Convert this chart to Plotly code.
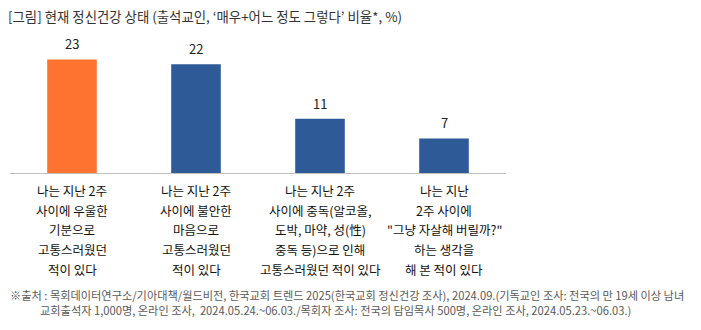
import plotly.graph_objects as go

# Survey results: share answering "very / somewhat so" (%)
categories = [
    "나는 지난 2주<br>사이에 우울한<br>기분으로<br>고통스러웠던<br>적이 있다",
    "나는 지난 2주<br>사이에 불안한<br>마음으로<br>고통스러웠던<br>적이 있다",
    "나는 지난 2주<br>사이에 중독(알코올,<br>도박, 마약, 성(性)<br>중독 등)으로 인해<br>고통스러웠던 적이 있다",
    "나는 지난<br>2주 사이에<br>\"그냥 자살해 버릴까?\"<br>하는 생각을<br>해 본 적이 있다",
]
values = [23, 22, 11, 7]
bar_colors = ["#FF7330", "#2E5B98", "#2E5B98", "#2E5B98"]

title_text = "[그림] 현재 정신건강 상태 (출석교인, ‘매우+어느 정도 그렇다’ 비율*, %)"
source_lines = [
    "※출처 : 목회데이터연구소/기아대책/월드비전, 한국교회 트렌드 2025(한국교회 정신건강 조사), 2024.09.(기독교인 조사: 전국의 만 19세 이상 남녀",
    "교회출석자 1,000명, 온라인 조사,  2024.05.24.~06.03./목회자 조사: 전국의 담임목사 500명, 온라인 조사, 2024.05.23.~06.03.)",
]

FONT = "Noto Sans CJK KR"
W, H = 701, 330
L, R, T, B = 10, 195, 40, 157
plot_w = W - L - R
plot_h = H - T - B
px_per_unit = 4.94
ymax = plot_h / px_per_unit

xs = list(range(len(categories)))

fig = go.Figure(
    go.Bar(
        x=xs,
        y=values,
        width=0.4,
        marker=dict(color=bar_colors, line=dict(width=0)),
        hoverinfo="skip",
    )
)

annotations = []
# value labels above the bars
for x, v in zip(xs, values):
    annotations.append(dict(
        x=x, y=v, xref="x", yref="y", text=str(v), showarrow=False,
        yanchor="bottom", yshift=4,
        font=dict(family=FONT, size=13, color="#222222"),
    ))

# category labels, one annotation per line for wider line spacing
line_gap = 19.6
first_line = 17.7
for x, label in zip(xs, categories):
    for i, line in enumerate(label.split("<br>")):
        annotations.append(dict(
            x=x, y=0, xref="x", yref="paper", text=line, showarrow=False,
            xanchor="center", yanchor="middle",
            yshift=-(first_line + line_gap * i),
            font=dict(family=FONT, size=12.5, color="#111111"),
        ))

# source note
for px, py, txt in [(8, 295, source_lines[0]), (38, 309.5, source_lines[1])]:
    annotations.append(dict(
        x=(px - L) / plot_w, y=(H - B - py) / plot_h, xref="paper", yref="paper",
        text=txt, showarrow=False, xanchor="left", yanchor="middle",
        font=dict(family=FONT, size=11.2, color="#595959"),
    ))

fig.update_layout(
    width=W, height=H,
    margin=dict(l=L, r=R, t=T, b=B),
    paper_bgcolor="white", plot_bgcolor="white",
    showlegend=False,
    title=dict(
        text=title_text, x=8 / W, xanchor="left", y=1 - 17 / H, yanchor="middle",
        font=dict(family=FONT, size=13.4, color="#333333"),
    ),
    xaxis=dict(
        range=[-0.5, len(categories) - 0.5], showticklabels=False, showgrid=False,
        zeroline=False, showline=True, linecolor="#BFBFBF", linewidth=1, ticks="",
        fixedrange=True,
    ),
    yaxis=dict(
        range=[0, ymax], visible=False, showgrid=False, zeroline=False, fixedrange=True,
    ),
    annotations=annotations,
)

fig.write_html("out.html")
